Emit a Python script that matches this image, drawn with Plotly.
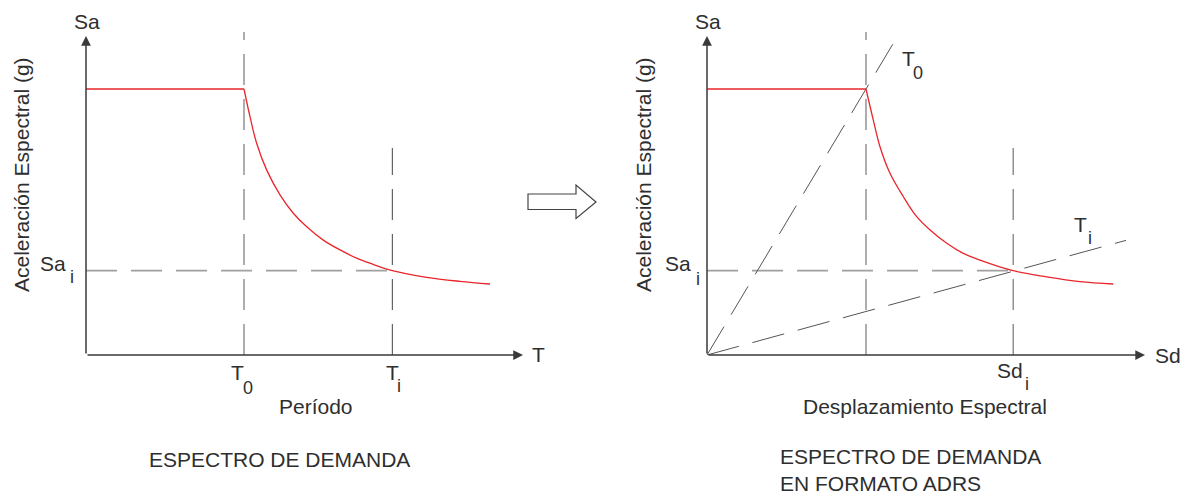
import plotly.graph_objects as go

# ---------------- data ----------------
# Left panel: Sa vs T (period); T0 = 1 unit, plateau Sa = 1 unit
T0 = 1.0
Ti = 1.939
Sa_max = 1.0
Sa_i = 0.317
plateau_T = [0.0, 1.0]
plateau_Sa = [1.0, 1.0]
left_T = [1.0, 1.038, 1.080, 1.144, 1.228, 1.312, 1.397, 1.502, 1.608, 1.713,
          1.797, 1.939, 2.156, 2.367, 2.557]
left_Sa = [1.0, 0.896, 0.796, 0.695, 0.602, 0.533, 0.482, 0.432, 0.395, 0.364,
           0.345, 0.317, 0.292, 0.277, 0.267]

# Right panel: Sa vs Sd (ADRS format)
Sd0 = 1.0
Sd_i = 1.926
plateau_Sd = [0.0, 1.0]
right_Sd = [1.0, 1.046, 1.088, 1.151, 1.235, 1.319, 1.403, 1.508, 1.612, 1.717,
            1.926, 2.136, 2.346, 2.555]
right_Sa = [1.0, 0.883, 0.783, 0.683, 0.595, 0.520, 0.470, 0.420, 0.382, 0.357,
            0.317, 0.294, 0.276, 0.267]

# radial period lines (T0 and Ti) end points
t0_ray = ([0.0, 1.19], [0.0, 1.19])
ti_ray = ([0.0, 2.635], [0.0, 0.431])

# reference-line top extents
v0_top = 1.214
vi_top = 0.778

# ---------------- style ----------------
W, H = 1195, 494
OFF = 8                      # default page margin around the plot div
FW, FH = W - OFF, H - OFF    # figure size
FONT = "Liberation Sans, Arial, sans-serif"
TXT = "#2e2e2e"
AX = "#3a3a3a"
RED = "#e8262b"
FS = 21
FSUB = 18


def P(x, y):
    """screen pixel -> paper coordinates"""
    return (x - OFF) / FW, 1 - (y - OFF) / FH


fig = go.Figure()


def line(x, y, xa, ya, color, width, dash=None, shape="linear"):
    fig.add_trace(go.Scatter(x=x, y=y, xaxis=xa, yaxis=ya, mode="lines",
                             line=dict(color=color, width=width, dash=dash, shape=shape),
                             hoverinfo="skip", showlegend=False))


DASH = "31px,14px"

# ---- left panel reference lines
line([T0, T0], [0, v0_top], "x", "y", "#9a9a9a", 1.6, DASH)
line([Ti, Ti], [0, vi_top], "x", "y", "#555555", 1.1, DASH)
line([0, Ti], [Sa_i, Sa_i], "x", "y", "#a0a0a0", 1.8, DASH)
# ---- left spectrum
line(plateau_T, plateau_Sa, "x", "y", RED, 1.3)
line(left_T, left_Sa, "x", "y", RED, 1.3, shape="spline")

# ---- right panel reference lines
line([Sd0, Sd0], [0, v0_top], "x2", "y2", "#9a9a9a", 1.6, DASH)
line([Sd_i, Sd_i], [0, vi_top], "x2", "y2", "#8a8a8a", 1.4, DASH)
line([0, Sd_i], [Sa_i, Sa_i], "x2", "y2", "#a0a0a0", 1.8, DASH)
line(t0_ray[0], t0_ray[1], "x2", "y2", "#555555", 1.0, "33px,14px")
line(ti_ray[0], ti_ray[1], "x2", "y2", "#555555", 1.0, "33px,14px")
# ---- right spectrum
line(plateau_Sd, plateau_Sa, "x2", "y2", RED, 1.3)
line(right_Sd, right_Sa, "x2", "y2", RED, 1.3, shape="spline")

ann = []


def txt(text, x, y, xref, yref, size=FS, xshift=0, yshift=0, xanchor="center",
        yanchor="middle", angle=0, align="center"):
    ann.append(dict(text=text, x=x, y=y, xref=xref, yref=yref, showarrow=False,
                    font=dict(family=FONT, size=size, color=TXT), xshift=xshift,
                    yshift=yshift, xanchor=xanchor, yanchor=yanchor, textangle=angle,
                    align=align))


def arrow(xa, ya, x0, y0, x1, y1):
    ann.append(dict(text="", x=x1, y=y1, ax=x0, ay=y0, xref=xa, yref=ya,
                    axref=xa, ayref=ya, showarrow=True, arrowhead=2, arrowsize=1.3,
                    arrowwidth=1.5, arrowcolor=AX, standoff=0, startstandoff=0))


# axes with arrows
LX_TIP, RX_TIP, Y_TIP = 2.766, 2.755, 1.199
arrow("x", "y", 0, 0, LX_TIP, 0)
arrow("x", "y", 0, 0, 0, Y_TIP)
arrow("x2", "y2", 0, 0, RX_TIP, 0)
arrow("x2", "y2", 0, 0, 0, Y_TIP)

# axis end labels
txt("Sa", 0, Y_TIP, "x", "y", xshift=1, yshift=15)
txt("T", LX_TIP, 0, "x", "y", xshift=15, yshift=1)
txt("Sa", 0, Y_TIP, "x2", "y2", xshift=1, yshift=15)
txt("Sd", RX_TIP, 0, "x2", "y2", xshift=23, yshift=0)

# left tick-like labels
txt("T", T0, 0, "x", "y", xshift=-6.5, yshift=-17)
txt("0", T0, 0, "x", "y", size=FSUB, xshift=4, yshift=-33)
txt("T", Ti, 0, "x", "y", xshift=0, yshift=-17)
txt("i", Ti, 0, "x", "y", size=FSUB, xshift=7, yshift=-31)
txt("Sa", 0, Sa_i, "x", "y", xanchor="right", xshift=-18, yshift=7)
txt("i", 0, Sa_i, "x", "y", size=FSUB, xshift=-14, yshift=-6)

# right labels
txt("Sa", 0, Sa_i, "x2", "y2", xanchor="right", xshift=-14, yshift=7)
txt("i", 0, Sa_i, "x2", "y2", size=FSUB, xshift=-9, yshift=-8)
txt("Sd", Sd_i, 0, "x2", "y2", xshift=-3, yshift=-15)
txt("i", Sd_i, 0, "x2", "y2", size=FSUB, xshift=14, yshift=-29)
txt("T", t0_ray[0][1], t0_ray[1][1], "x2", "y2", xshift=12, yshift=-20)
txt("0", t0_ray[0][1], t0_ray[1][1], "x2", "y2", size=FSUB, xshift=22, yshift=-35)
txt("T", ti_ray[0][1], ti_ray[1][1], "x2", "y2", xshift=-45, yshift=16)
txt("i", ti_ray[0][1], ti_ray[1][1], "x2", "y2", size=FSUB, xshift=-36, yshift=2)

# axis titles
px, py = P(21, 175)
txt("Aceleración Espectral (g)", px, py, "paper", "paper", angle=-90)
px, py = P(643, 175)
txt("Aceleración Espectral (g)", px, py, "paper", "paper", angle=-90)
px, py = P(316, 406)
txt("Período", px, py, "paper", "paper")
px, py = P(925, 406)
txt("Desplazamiento Espectral", px, py, "paper", "paper")

# captions
px, py = P(279, 459)
txt("ESPECTRO DE DEMANDA", px, py, "paper", "paper")
px, py = P(778, 470)
txt("ESPECTRO DE DEMANDA<br>EN FORMATO ADRS", px, py, "paper", "paper",
    xanchor="left", align="left")

# block arrow between panels
pts = [(528, 194), (576, 194), (576, 185), (596, 202), (576, 218.5), (576, 209.5), (528, 209.5)]
path = "M " + " L ".join(f"{P(x, y)[0]:.5f},{P(x, y)[1]:.5f}" for x, y in pts) + " Z"
shapes = [dict(type="path", path=path, xref="paper", yref="paper",
               line=dict(color="#444444", width=1.2), fillcolor="white")]

y0p = P(0, 355)[1]
ydom = [y0p, 1.0]
yr = [0, (355 - OFF) / 266]
fig.update_layout(
    width=FW, height=FH, margin=dict(l=0, r=0, t=0, b=0),
    paper_bgcolor="white", plot_bgcolor="white", showlegend=False,
    xaxis=dict(domain=[P(86, 0)[0], P(560, 0)[0]], range=[0, 3.0], visible=False),
    yaxis=dict(domain=ydom, range=yr, visible=False),
    xaxis2=dict(domain=[P(707, 0)[0], P(1184, 0)[0]], range=[0, 3.0], visible=False),
    yaxis2=dict(domain=ydom, range=yr, visible=False, anchor="x2"),
    annotations=ann, shapes=shapes,
)

fig.write_html("out.html")
